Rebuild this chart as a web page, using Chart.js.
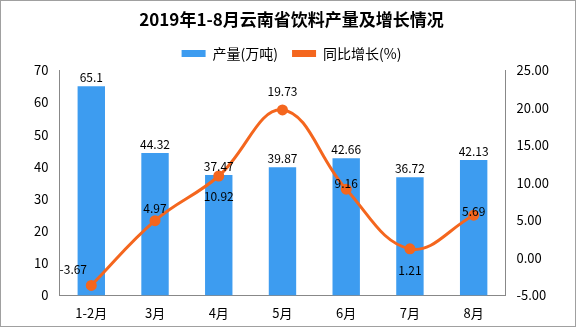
<!DOCTYPE html>
<html>
<head>
<meta charset="utf-8">
<script src="https://cdn.jsdelivr.net/npm/chart.js@4/dist/chart.umd.min.js"></script>
<style>
  html, body { margin: 0; padding: 0; background: #fff; }
  #wrap { width: 574px; height: 325px; border: 1px solid #a0a0a0; }
</style>
</head>
<body>
<div id="wrap"><canvas id="c" width="574" height="325"></canvas></div>
<script>
const categories = ['1-2月', '3月', '4月', '5月', '6月', '7月', '8月'];
const output = [65.1, 44.32, 37.47, 39.87, 42.66, 36.72, 42.13];
const growth = [-3.67, 4.97, 10.92, 19.73, 9.16, 1.21, 5.69];
const leftTicks = [0, 10, 20, 30, 40, 50, 60, 70];
const rightTicks = [-5, 0, 5, 10, 15, 20, 25];

const FONT = '"Noto Sans CJK SC", "DejaVu Sans", sans-serif';
const BLUE = '#3d9cf0';
const ORANGE = '#f4661e';

// label offsets for the growth line (dx, dy from the point)
const growthLabelShift = [[-18, -16], [0, -12], [0, 20], [0, -18], [0, -6], [0, 22], [0, -4]];

const valueLabels = {
  id: 'valueLabels',
  afterDatasetsDraw(chart) {
    const ctx = chart.ctx;
    ctx.save();
    ctx.font = '12px ' + FONT;
    ctx.fillStyle = '#000';
    ctx.textAlign = 'center';
    ctx.textBaseline = 'bottom';
    chart.getDatasetMeta(0).data.forEach((bar, i) => {
      ctx.fillText(String(output[i]), bar.x, bar.y - 3);
    });
    ctx.textBaseline = 'middle';
    chart.getDatasetMeta(1).data.forEach((pt, i) => {
      const s = growthLabelShift[i];
      ctx.fillText(growth[i].toFixed(2), pt.x + s[0], pt.y + s[1]);
    });
    ctx.restore();
  }
};

new Chart(document.getElementById('c'), {
  data: {
    labels: categories,
    datasets: [
      {
        type: 'bar',
        label: '产量(万吨)',
        data: output,
        backgroundColor: BLUE,
        yAxisID: 'y',
        categoryPercentage: 1,
        barPercentage: 0.43,
        order: 2
      },
      {
        type: 'line',
        label: '同比增长(%)',
        data: growth,
        borderColor: ORANGE,
        backgroundColor: ORANGE,
        borderWidth: 3,
        pointRadius: 4,
        pointBackgroundColor: ORANGE,
        pointBorderColor: ORANGE,
        tension: 0.4,
        yAxisID: 'y1',
        order: 1
      }
    ]
  },
  options: {
    responsive: false,
    animation: false,
    layout: { padding: { left: 27, right: 20, top: 4, bottom: 1 } },
    plugins: {
      title: {
        display: true,
        text: '2019年1-8月云南省饮料产量及增长情况',
        color: '#000',
        font: { family: FONT, size: 17, weight: 'bold' },
        padding: { top: 4, bottom: 3 }
      },
      legend: {
        display: true,
        labels: {
          color: '#000',
          font: { family: FONT, size: 14 },
          boxWidth: 24,
          boxHeight: 7,
          padding: 14,
          generateLabels(chart) {
            return chart.data.datasets.map((ds, i) => ({
              text: ds.label,
              fillStyle: i === 0 ? BLUE : ORANGE,
              strokeStyle: i === 0 ? BLUE : ORANGE,
              lineWidth: 0,
              datasetIndex: i
            }));
          }
        }
      },
      tooltip: { enabled: false }
    },
    scales: {
      x: {
        grid: { display: false, drawTicks: true, tickLength: 6, offset: true, color: '#888' },
        border: { color: '#888' },
        ticks: { color: '#000', font: { family: FONT, size: 13 }, padding: 4 }
      },
      y: {
        position: 'left',
        min: 0,
        max: 70,
        afterBuildTicks(axis) { axis.ticks = leftTicks.map(v => ({ value: v })); },
        grid: { display: false, drawTicks: true, tickLength: 5, color: '#888' },
        border: { color: '#888' },
        ticks: { color: '#000', font: { family: FONT, size: 13 }, padding: 6 }
      },
      y1: {
        position: 'right',
        min: -5,
        max: 25,
        afterBuildTicks(axis) { axis.ticks = rightTicks.map(v => ({ value: v })); },
        grid: { display: false, drawTicks: true, tickLength: 5, color: '#888' },
        border: { color: '#888' },
        ticks: {
          color: '#000',
          font: { family: FONT, size: 13 },
          padding: 6,
          callback: v => v.toFixed(2)
        }
      }
    }
  },
  plugins: [valueLabels]
});
</script>
</body>
</html>
